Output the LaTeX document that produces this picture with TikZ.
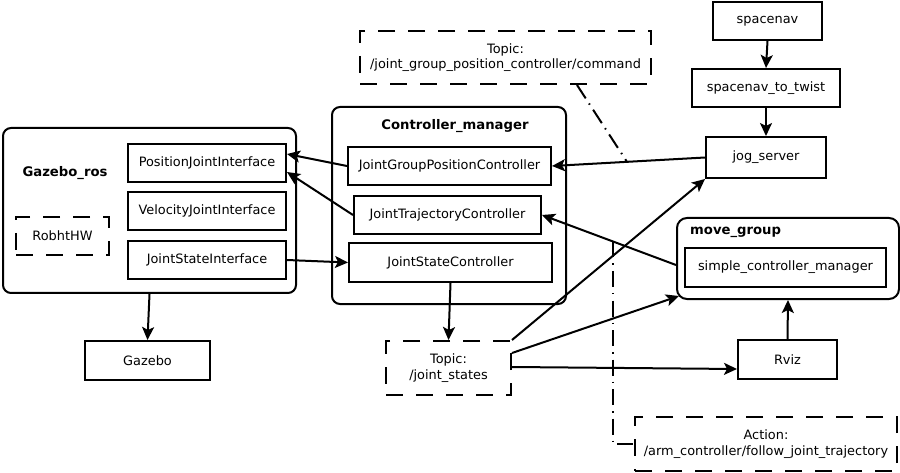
\documentclass[tikz,border=0pt]{standalone}
\usepackage{fontspec}
\setmainfont{DejaVu Sans}
\usetikzlibrary{arrows.meta}
\begin{document}
\begin{tikzpicture}[x=1pt,y=-1pt,
  every node/.style={font=\fontsize{12.9}{15.5}\selectfont, inner sep=0pt},
  box/.style={draw, line width=2pt, align=center},
  dbox/.style={box, dash pattern=on 17pt off 13pt},
  outer/.style={draw, line width=2pt, rounded corners=8pt},
  ttl/.style={font=\fontsize{13.2}{15.5}\selectfont\bfseries},
  arr/.style={line width=2pt, -{Stealth[length=13pt,width=12pt,inset=3pt]}},
  dashdot/.style={line width=2pt, dash pattern=on 16pt off 6pt on 1.5pt off 6pt}
]
\useasboundingbox (0,0) rectangle (900,473);
% Gazebo_ros
\node[outer, minimum width=293pt, minimum height=165pt] (gzr) at (149.5,210.5) {};
\node[ttl] (gzrt) at (65,173) {Gazebo\_ros};
\node[box, minimum width=158pt, minimum height=38pt] (pji) at (207,163) {PositionJointInterface};
\node[box, minimum width=158pt, minimum height=38pt] (vji) at (207,211) {VelocityJointInterface};
\node[box, minimum width=158pt, minimum height=38pt] (jsi) at (207,260) {JointStateInterface};
\node[dbox, minimum width=93pt, minimum height=38pt] (rhw) at (62.5,236) {RobhtHW};
\node[box, minimum width=125pt, minimum height=39pt] (gz) at (147.5,360.5) {Gazebo};
% Controller manager
\node[outer, minimum width=234pt, minimum height=197pt] (cm) at (449,205.5) {};
\node[ttl] (cmt) at (455,126) {Controller\_manager};
\node[box, minimum width=203pt, minimum height=38pt] (jgpc) at (449.5,166) {JointGroupPositionController};
\node[box, minimum width=187pt, minimum height=38pt] (jtc) at (447.5,215) {JointTrajectoryController};
\node[box, minimum width=203pt, minimum height=39pt] (jsc) at (450.5,262.5) {JointStateController};
% topics
\node[dbox, minimum width=291pt, minimum height=53pt] (tcmd) at (505.5,57.5) {Topic:\\/joint\_group\_position\_controller/command};
\node[dbox, minimum width=125pt, minimum height=54pt] (tjs) at (448.5,368) {Topic:\\/joint\_states};
% right side
\node[box, minimum width=109pt, minimum height=38pt] (sn) at (767.5,21) {spacenav};
\node[box, minimum width=148pt, minimum height=38pt] (s2t) at (766,88) {spacenav\_to\_twist};
\node[box, minimum width=120pt, minimum height=41pt] (jog) at (766,157.5) {jog\_server};
\node[outer, rounded corners=10pt, minimum width=222pt, minimum height=81pt] (mg) at (788,258.5) {};
\node[ttl, anchor=west] (mgt) at (690,232) {move\_group};
\node[box, minimum width=201pt, minimum height=39pt] (scm) at (785.5,267.5) {simple\_controller\_manager};
\node[box, minimum width=99pt, minimum height=39pt] (rviz) at (787.5,359.5) {Rviz};
\node[dbox, minimum width=262pt, minimum height=54pt] (act) at (766,444) {Action:\\/arm\_controller/follow\_joint\_trajectory};
% connectors
\draw[arr] (sn.south) -- (s2t.north);
\draw[arr] (s2t.south) -- (jog.north);
\draw[arr] (jog.west) -- coordinate[pos=0.51] (c1) (jgpc.east);
\draw[arr] (jgpc.west) -- ([yshift=9pt]pji.east);
\draw[arr] (jtc.west) -- ([yshift=-9pt]pji.east);
\draw[arr] (jsi.east) -- (jsc.west);
\draw[arr] (gzr.south) -- (gz.north);
\draw[arr] (jsc.south) -- (tjs.north);
\draw[arr] (tjs.north east) -- (jog.south west);
\draw[arr] ([yshift=-13pt]tjs.north east) -- ([shift={(3pt,4pt)}]mg.south west);
\draw[arr] ([yshift=-27pt]tjs.north east) -- ([yshift=-9.5pt]rviz.west);
\draw[arr] ([yshift=-6.5pt]mg.west) -- coordinate[pos=0.47] (c2) (jtc.east);
\draw[arr] (rviz.north) -- (mg.south);
\draw[dashdot] ([xshift=71.5pt]tcmd.south) -- (c1);
\draw[dashdot] (c2) |- (act.west);
\end{tikzpicture}
\end{document}
